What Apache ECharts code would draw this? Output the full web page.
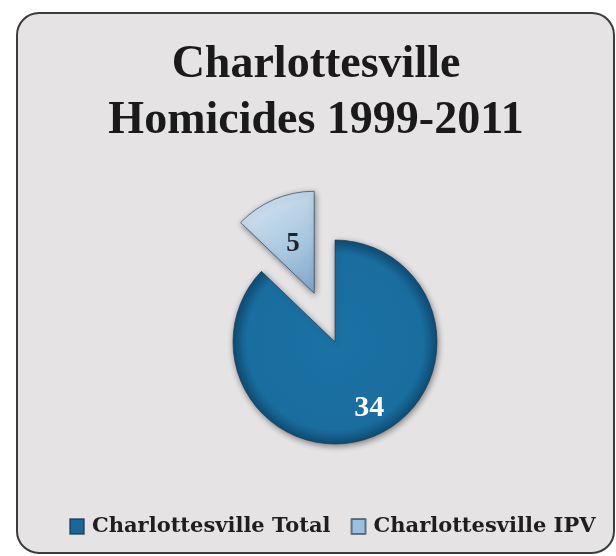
<!DOCTYPE html>
<html>
<head>
<meta charset="utf-8">
<script src="https://cdn.jsdelivr.net/npm/echarts@6/dist/echarts.min.js"></script>
<style>
html,body{margin:0;padding:0;background:#ffffff;}
#chart{width:616px;height:556px;}
</style>
</head>
<body>
<div id="chart"></div>
<script>
var categories = ['Charlottesville Total', 'Charlottesville IPV'];
var values = [34, 5];
var titleText = 'Charlottesville\nHomicides 1999-2011';

var sliceColors = [
  {type:'radial', x:0.5, y:0.5, r:0.5, colorStops:[{offset:0,color:'#1b72a5'},{offset:0.86,color:'#1a6d9f'},{offset:1,color:'#0e4c74'}]},
  {type:'linear', x:0, y:0, x2:1, y2:1, colorStops:[{offset:0,color:'#dce9f4'},{offset:0.6,color:'#a9c7e0'},{offset:1,color:'#7fa6c8'}]}
];
var legendColors = ['#1b6898', '#9fc0dc'];
var labelStyles = [
  {color:'#ffffff', fontSize:30, offset:[13,17]},
  {color:'#1c2430', fontSize:27, offset:[-2,-9]}
];

var chart = echarts.init(document.getElementById('chart'), null, {renderer:'canvas'});

var data = categories.map(function(name, i){
  return {
    name: name,
    value: values[i],
    selected: i === 1,
    itemStyle: {color: sliceColors[i]},
    label: {color: labelStyles[i].color, fontSize: labelStyles[i].fontSize, offset: labelStyles[i].offset}
  };
});

chart.setOption({
  animation: false,
  backgroundColor: '#ffffff',
  graphic: [{
    type: 'rect',
    z: -10,
    shape: {x: 17, y: 13, width: 597, height: 540, r: 22},
    style: {fill: '#e5e3e3', stroke: '#3c3c3c', lineWidth: 2}
  }],
  title: {
    text: titleText,
    left: 316,
    textAlign: 'center',
    top: 37,
    padding: 0,
    textStyle: {
      fontFamily: 'Liberation Serif',
      fontWeight: 'bold',
      fontSize: 46,
      lineHeight: 56,
      color: '#1a1a1a'
    }
  },
  legend: {
    left: 69,
    top: 516,
    padding: 0,
    itemWidth: 14,
    itemHeight: 15,
    itemGap: 20,
    icon: 'rect',
    data: categories.map(function(n, i){ return {name: n, itemStyle: {color: legendColors[i]}}; }),
    textStyle: {
      fontFamily: 'DejaVu Serif',
      fontWeight: 'bold',
      fontSize: 21,
      color: '#1e1e1e',
      padding: [0, 0, 0, 3]
    }
  },
  series: [{
    type: 'pie',
    center: [335, 342],
    radius: [0, 102],
    startAngle: 90,
    clockwise: true,
    selectedMode: 'single',
    selectedOffset: 53,
    data: data,
    itemStyle: {
      borderColor: 'rgba(20,50,80,0.6)',
      borderWidth: 1,
      shadowBlur: 6,
      shadowColor: 'rgba(0,0,0,0.45)',
      shadowOffsetX: 1,
      shadowOffsetY: 2
    },
    label: {
      show: true,
      position: 'inside',
      formatter: '{c}',
      fontFamily: 'Liberation Serif',
      fontWeight: 'bold'
    },
    labelLine: {show: false},
    emphasis: {disabled: true}
  }]
});
</script>
</body>
</html>
